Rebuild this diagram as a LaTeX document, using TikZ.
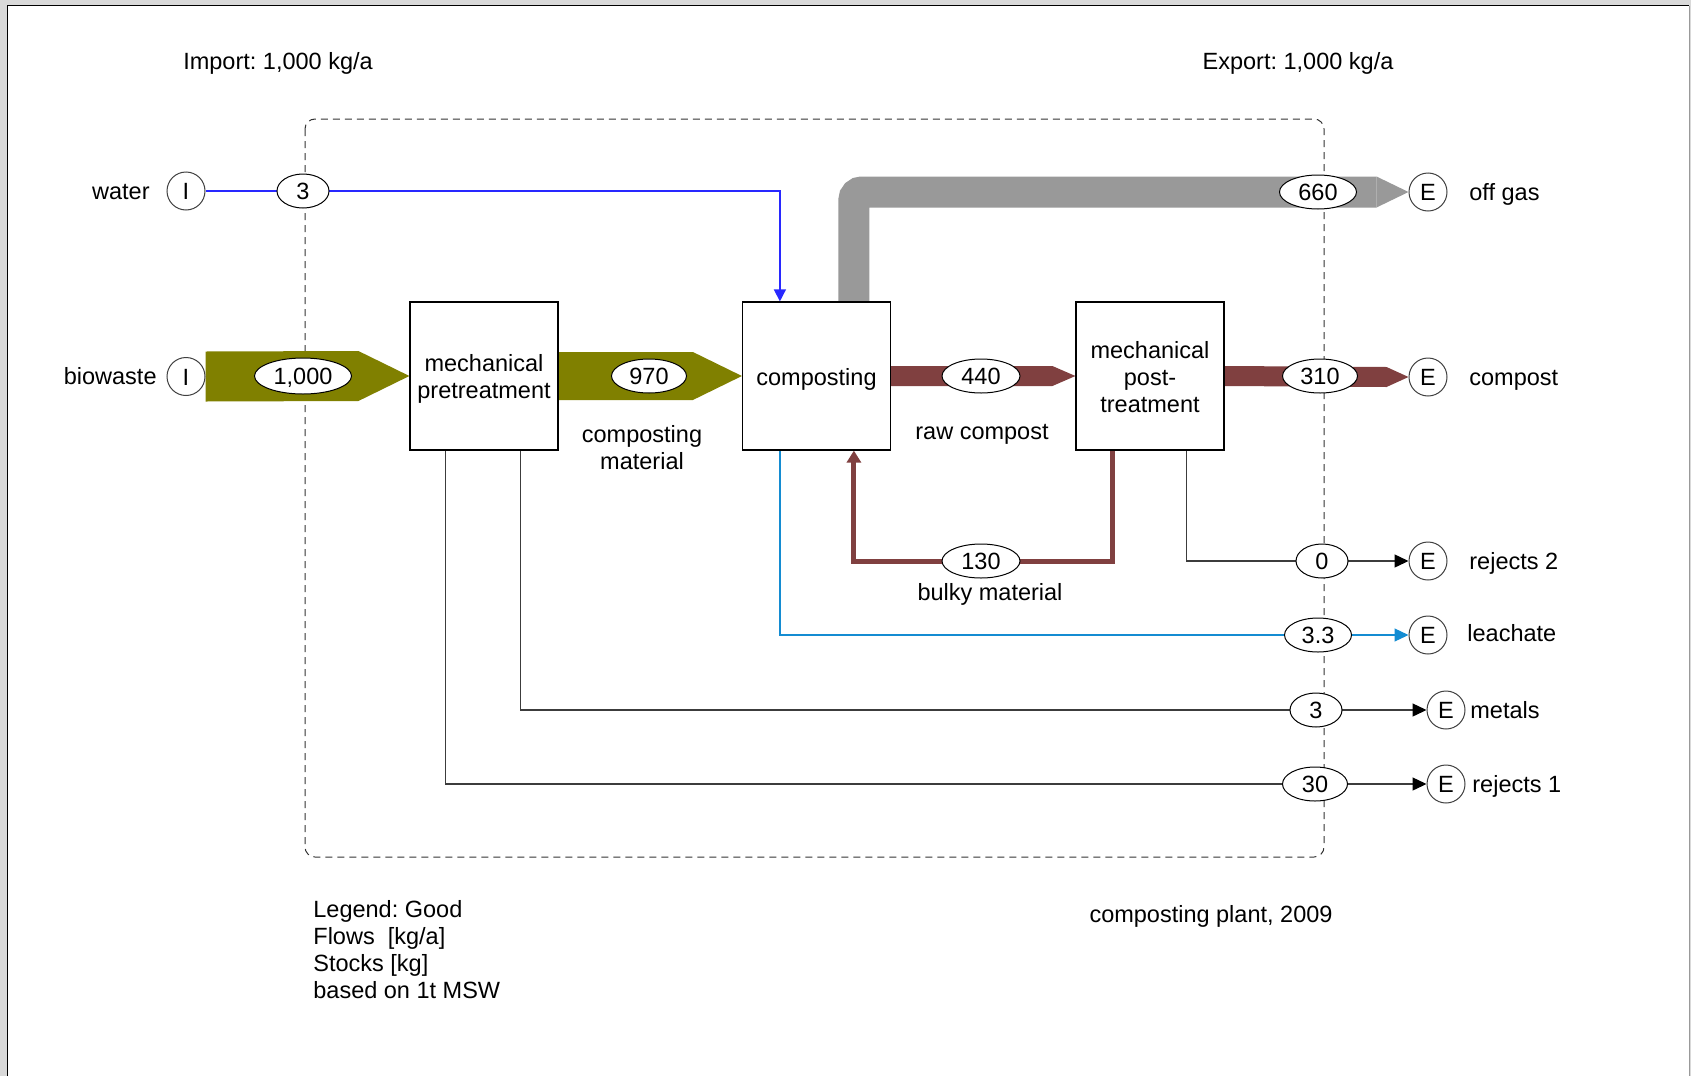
\documentclass[tikz,border=0pt]{standalone}
\usepackage{fontspec}
\setmainfont{Liberation Sans}
\frenchspacing
\usetikzlibrary{shapes.geometric,arrows.meta,calc,backgrounds}
\definecolor{olivef}{RGB}{128,128,0}
\definecolor{brownf}{RGB}{128,64,64}
\definecolor{grayf}{RGB}{153,153,153}
\definecolor{waterb}{RGB}{40,40,255}
\definecolor{leachb}{RGB}{20,140,210}
\definecolor{frameg}{RGB}{217,217,217}
\definecolor{lineg}{RGB}{60,60,60}
\begin{document}
\begin{tikzpicture}[x=0.5pt,y=-0.5pt,
  every node/.style={font=\fontsize{11.75}{13.5}\selectfont},
  proc/.style={draw=black, line width=0.6pt, fill=white, minimum width=74pt, minimum height=74pt, inner sep=0pt, align=center},
  io/.style={circle, draw=black!75, line width=0.5pt, fill=white, minimum size=19pt, inner sep=0pt, text height=8.5pt, text depth=0pt},
  val/.style={ellipse, draw=black, line width=0.5pt, fill=white, minimum height=17pt, inner sep=0pt, text height=8.3pt, text depth=0pt},
  lbl/.style={inner sep=0pt, text height=10pt, text depth=2pt},
  mlbl/.style={inner sep=0pt, align=center},
  thinflow/.style={draw=lineg, line width=0.7pt, -{Triangle[length=7pt,width=6.5pt,color=black]}}
]
\useasboundingbox (0,0) rectangle (1691,1076);

% process boxes
\node[proc] (mp) at (484,376) {\rule{0pt}{11.5pt}mechanical\\pretreatment};
\node[proc] (comp) at (816.5,376) {\rule{0pt}{11.5pt}composting};
\node[proc] (post) at (1150,376) {\rule{0pt}{10pt}mechanical\\post-\\treatment};

% import / export circles
\node[io] (Iw) at (186,191) {I};
\node[io] (Ib) at (186,376.5) {I};
\node[io] (Eoff) at (1428,192) {E};
\node[io] (Ecomp) at (1428,377) {E};
\node[io] (Erej2) at (1428,561) {E};
\node[io] (Eleach) at (1428,635) {E};
\node[io] (Emet) at (1446,710) {E};
\node[io] (Erej1) at (1446,784) {E};

% flow values
\node[val, minimum width=26pt] (v3w) at (303,191) {3};
\node[val, minimum width=48.5pt, minimum height=18pt] (v1000) at (303,376) {1,000};
\node[val, minimum width=37.5pt] (v970) at (649,376) {970};
\node[val, minimum width=39pt] (v440) at (981,376) {440};
\node[val, minimum width=38.5pt] (v660) at (1318,192) {660};
\node[val, minimum width=37.5pt] (v310) at (1320,376) {310};
\node[val, minimum width=26pt] (v0) at (1322,561) {0};
\node[val, minimum width=39pt] (v130) at (981,561) {130};
\node[val, minimum width=33.5pt] (v33) at (1318,635) {3.3};
\node[val, minimum width=26pt] (v3m) at (1316,710) {3};
\node[val, minimum width=32.5pt] (v30) at (1315,784) {30};

% labels
\node[lbl] (imp) at (278,61) {Import: 1,000 kg/a};
\node[lbl] (exp) at (1298,61) {Export: 1,000 kg/a};
\node[lbl, anchor=east] (tw) at (150,191) {water};
\node[lbl, anchor=east] (tb) at (157,376) {biowaste};
\node[mlbl] (tcm) at (642,448) {composting\\material};
\node[lbl] (trc) at (982,431) {raw compost};
\node[lbl] (tbm) at (990,592) {bulky material};
\node[lbl, anchor=west] (toff) at (1469,192) {off gas};
\node[lbl, anchor=west] (tcomp) at (1469,377) {compost};
\node[lbl, anchor=west] (trej2) at (1469,561) {rejects 2};
\node[lbl, anchor=west] (tleach) at (1467,633) {leachate};
\node[lbl, anchor=west] (tmet) at (1470,710) {metals};
\node[lbl, anchor=west] (trej1) at (1472,784) {rejects 1};
\node[inner sep=0pt, align=left, anchor=north west] (legend) at (313,900) {Legend: Good\\Flows\ \ [kg/a]\\Stocks [kg]\\based on 1t MSW};
\node[lbl] (plant) at (1211,914) {composting plant, 2009};

\begin{scope}[on background layer]
  % page frame
  \fill[frameg] (0,0) rectangle (1691,1076);
  \fill[white] (8,6) rectangle (1689,1076);
  \draw[black, line width=0.8pt] (7.5,1076) -- (7.5,5.5) -- (1689,5.5);
  \draw[black!40, line width=0.5pt] (1689.5,5.5) -- (1689.5,1076);
  % system boundary
  \draw[black!80, line width=0.5pt, dash pattern=on 3.5pt off 2.5pt, rounded corners=5pt] (305,119) rectangle (1324,857);

  % biowaste
  \fill[olivef] ($(Ib.east)+(0,-25)$) -- ($(mp.west)+(-51,-25)$) -- (mp.west) -- ($(mp.west)+(-51,25)$) -- ($(Ib.east)+(0,25)$) -- cycle;
  % composting material
  \fill[olivef] ($(mp.east)+(0,-24)$) -- ($(comp.west)+(-49,-24)$) -- (comp.west) -- ($(comp.west)+(-49,24)$) -- ($(mp.east)+(0,24)$) -- cycle;
  % raw compost
  \fill[brownf] ($(comp.east)+(0,-10)$) -- ($(post.west)+(-23,-10)$) -- (post.west) -- ($(post.west)+(-23,10)$) -- ($(comp.east)+(0,10)$) -- cycle;
  % compost
  \fill[brownf] ($(post.east)+(0,-10)$) -- ($(Ecomp.west)+(-22,-10)$) -- (Ecomp.west) -- ($(Ecomp.west)+(-22,10)$) -- ($(post.east)+(0,10)$) -- cycle;
  % off gas
  \coordinate (ogs) at ($(comp.north west)+(112,0)$);
  \coordinate (ogh) at ($(Eoff.west)+(-32,0)$);
  \draw[grayf, line width=15.5pt, rounded corners=4pt] (ogs) |- (ogh);
  \fill[grayf] ($(ogh)+(0,-15.5)$) -- (Eoff.west) -- ($(ogh)+(0,15.5)$) -- cycle;
  % water
  \draw[waterb, line width=0.7pt, -{Triangle[length=6pt,width=6pt]}] (Iw.east) -| ($(comp.north west)+(38,0)$);
  % leachate
  \draw[leachb, line width=0.6pt, -{Triangle[length=7pt,width=6.5pt]}] ($(comp.south west)+(38,0)$) |- (Eleach.west);
  % rejects 2
  \draw[thinflow] ($(post.south west)+(111,0)$) |- (Erej2.west);
  % bulky material
  \draw[brownf, line width=2.5pt, -{Triangle[length=6pt,width=7pt]}] ($(post.south west)+(37,0)$) |- (v130.center) -| ($(comp.south west)+(112,0)$);
  % metals
  \draw[thinflow] ($(mp.south west)+(111,0)$) |- (Emet.west);
  % rejects 1
  \draw[thinflow] ($(mp.south west)+(36,0)$) |- (Erej1.west);
\end{scope}
\end{tikzpicture}
\end{document}
